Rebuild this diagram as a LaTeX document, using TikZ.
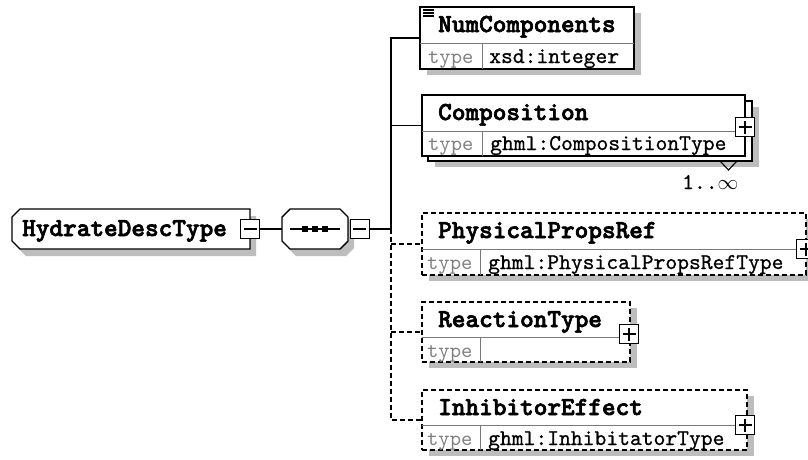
\documentclass[tikz,border=0pt]{standalone}
\usepackage{fontspec}
\newfontfamily\namefont[FakeBold=2.5]{lmmonolt10-bold.otf}
\newfontfamily\typefont[FakeBold=0.8]{lmmono10-regular.otf}
\newfontfamily\labelfont{lmmono10-regular.otf}
\usetikzlibrary{calc,shadows}
\definecolor{shadowgray}{HTML}{BDBDBD}
\definecolor{typegray}{HTML}{808080}
\definecolor{divgray}{HTML}{7A7A7A}
\begin{document}
\begin{tikzpicture}[x=1pt,y=-1pt,
  box/.style 2 args={draw=black, line width=1.4pt, fill=white, minimum width=#1, minimum height=#2,
     anchor=north west, inner sep=0pt, outer sep=0pt,
     drop shadow={shadow xshift=7pt, shadow yshift=-6pt, fill=shadowgray, opacity=1}},
  plainbox/.style 2 args={draw=black, line width=1.4pt, fill=white, minimum width=#1, minimum height=#2,
     anchor=north west, inner sep=0pt, outer sep=0pt},
  optional/.style={dash pattern=on 5pt off 3pt},
  hidden/.style={minimum width=#1, minimum height=40pt, anchor=north west, inner sep=0pt, outer sep=0pt},
  divider/.style={draw=divgray, line width=1pt},
  conn/.style={line width=1.4pt},
  dconn/.style={line width=1.4pt, dash pattern=on 5pt off 3pt},
  nametext/.style={font=\namefont\fontsize{26}{26}\selectfont, inner sep=0pt, anchor=base west},
  typetext/.style={font=\typefont\fontsize{22.5}{22.5}\selectfont, inner sep=0pt, anchor=base west},
  typelabel/.style={font=\labelfont\fontsize{21.5}{21.5}\selectfont, text=typegray, inner sep=0pt, anchor=base west},
  plusbox/.style={draw=black, fill=white, line width=1.3pt, minimum size=19pt, inner sep=0pt,
     path picture={\draw[line width=1.3pt] ([xshift=-6.5pt]path picture bounding box.center) -- ([xshift=6.5pt]path picture bounding box.center);
                   \draw[line width=1.3pt] ([yshift=-6.5pt]path picture bounding box.center) -- ([yshift=6.5pt]path picture bounding box.center);}},
  minusbox/.style={draw=black, fill=white, line width=1.3pt, minimum size=19pt, inner sep=0pt,
     path picture={\draw[line width=1.3pt] ([xshift=-6.5pt]path picture bounding box.center) -- ([xshift=6.5pt]path picture bounding box.center);}}
]
\useasboundingbox (0,0) rectangle (808,459);

% ---------- HydrateDescType ----------
\fill[shadowgray] (26,216) -- (256,216) -- (256,256) -- (26,256) -- (18,248) -- (18,224) -- cycle;
\draw[line width=1.4pt, fill=white] (20,209) -- (250,209) -- (250,249) -- (20,249) -- (12,241) -- (12,217) -- cycle;
\node[hidden=238pt] (hyd) at (12,209) {};
\node[nametext] (hydname) at (22,236) {HydrateDescType};
\node[minusbox] (hydminus) at (hyd.east) {};

% ---------- sequence ----------
\fill[shadowgray] (296,216) -- (346,216) -- (354,224) -- (354,248) -- (346,256) -- (296,256) -- (288,248) -- (288,224) -- cycle;
\draw[line width=1.4pt, fill=white] (290,209) -- (340,209) -- (348,217) -- (348,241) -- (340,249) -- (290,249) -- (282,241) -- (282,217) -- cycle;
\node[hidden=66pt] (seq) at (282,209) {};
\draw[line width=1.4pt] (290,229) -- (340,229);
\fill (302,226) rectangle (308,232);
\fill (312,226) rectangle (318,232);
\fill (322,226) rectangle (328,232);
\node[minusbox, anchor=west] (seqminus) at ($(seq.east)+(1.5,0)$) {};

\draw[conn] (hydminus.east) -- (seq.west);
\coordinate (vjoin) at (391,229);
\draw[conn] (seqminus.east) -- (vjoin);

% ---------- NumComponents ----------
\node[box={214pt}{62pt}] (num) at (420,7) {};
\draw[divider] ($(num.north west)+(0,36)$) -- ($(num.north east)+(0,36)$);
\draw[divider] ($(num.north west)+(62,36)$) -- ($(num.south west)+(62,0)$);
\draw[line width=1.3pt] (423,10) -- (434,10) (423,13) -- (434,13) (423,16) -- (434,16);
\node[nametext] (numname) at (438,32) {NumComponents};
\node[typelabel] (numtl) at (428,63) {type};
\node[typetext] (numtype) at (489,63) {xsd:integer};

% ---------- Composition ----------
\node[box={324pt}{60pt}] (compback) at (428,101) {};
\node[plainbox={323pt}{61pt}] (comp) at (422,95) {};
\draw[divider] ($(comp.north west)+(0,36)$) -- ($(comp.north east)+(0,36)$);
\draw[divider] ($(comp.north west)+(60,36)$) -- ($(comp.south west)+(60,0)$);
\node[nametext] (compname) at (438,120) {Composition};
\node[typelabel] (comptl) at (428,150) {type};
\node[typetext] (comptype) at (490,150) {ghml:CompositionType};
\node[plusbox] (compplus) at (745,127) {};
\draw[line width=1.1pt] (720,161) -- (728.5,170) -- (737,161);
\node[typetext] (compcard) at (682,189) {1..$\infty$};

% ---------- PhysicalPropsRef ----------
\node[box={384pt}{62pt}, optional] (phys) at (422,213) {};
\draw[divider] ($(phys.north west)+(0,36)$) -- ($(phys.north east)+(0,36)$);
\draw[divider] ($(phys.north west)+(58,36)$) -- ($(phys.south west)+(58,0)$);
\node[nametext] (physname) at (438,238) {PhysicalPropsRef};
\node[typelabel] (phystl) at (427,269) {type};
\node[typetext] (phystype) at (488,269) {ghml:PhysicalPropsRefType};
\node[plusbox] (physplus) at (806,249) {};

% ---------- ReactionType ----------
\node[box={208pt}{60pt}, optional] (react) at (422,302) {};
\draw[divider] ($(react.north west)+(0,35)$) -- ($(react.north east)+(0,35)$);
\draw[divider] ($(react.north west)+(58,35)$) -- ($(react.south west)+(58,0)$);
\node[nametext] (reactname) at (438,327) {ReactionType};
\node[typelabel] (reacttl) at (427,357) {type};
\node[plusbox] (reactplus) at (629,334) {};

% ---------- InhibitorEffect ----------
\node[box={325pt}{60pt}, optional] (inhib) at (422,390) {};
\draw[divider] ($(inhib.north west)+(0,35)$) -- ($(inhib.north east)+(0,35)$);
\draw[divider] ($(inhib.north west)+(58,35)$) -- ($(inhib.south west)+(58,0)$);
\node[nametext] (inhibname) at (438,415) {InhibitorEffect};
\node[typelabel] (inhibtl) at (427,445) {type};
\node[typetext] (inhibtype) at (488,445) {ghml:InhibitatorType};
\node[plusbox] (inhibplus) at (745,425) {};

% ---------- connectors ----------
\draw[conn] (vjoin) |- (num.west);
\draw[conn] (vjoin |- comp.west) -- (comp.west);
\draw[dconn] (vjoin) |- (inhib.west);
\draw[dconn] (vjoin |- phys.west) -- (phys.west);
\draw[dconn] (vjoin |- react.west) -- (react.west);
\end{tikzpicture}
\end{document}
